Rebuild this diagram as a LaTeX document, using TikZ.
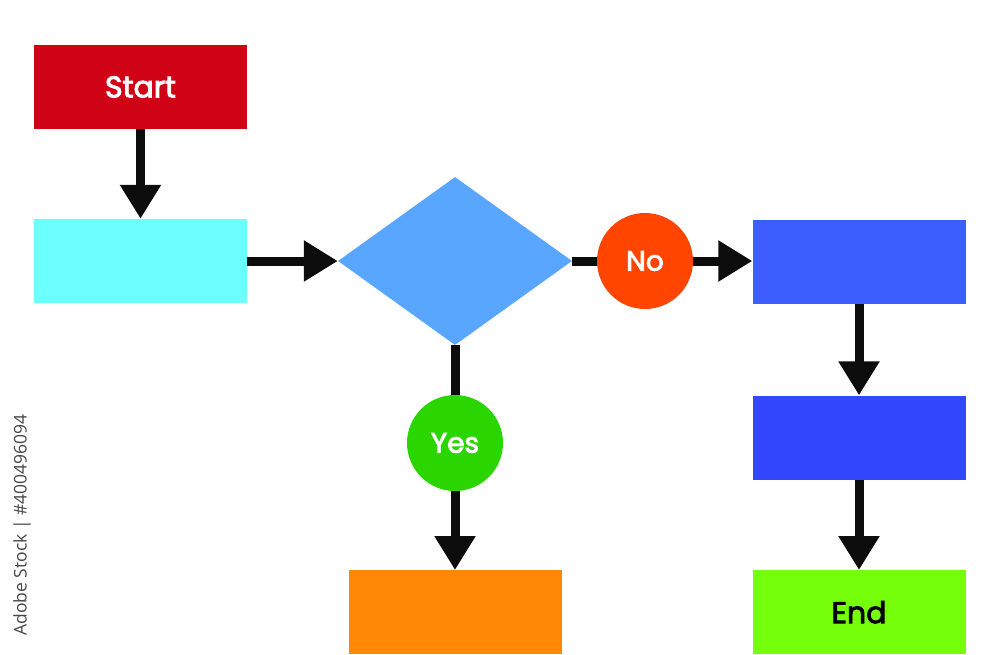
\documentclass[tikz,border=0pt]{standalone}
\usepackage{fontspec}
\setmainfont{Poppins}
\newfontfamily\lblfont{Poppins}[FakeBold=3]
\newfontfamily\wmfont{Open Sans}
\usetikzlibrary{shapes.geometric,arrows.meta}
\definecolor{cstart}{RGB}{208,2,22}
\definecolor{ccyan}{RGB}{108,255,255}
\definecolor{cdiam}{RGB}{88,166,255}
\definecolor{cno}{RGB}{255,69,0}
\definecolor{cyes}{RGB}{43,214,0}
\definecolor{cblueA}{RGB}{61,94,255}
\definecolor{cblueB}{RGB}{51,71,255}
\definecolor{corange}{RGB}{255,136,5}
\definecolor{cend}{RGB}{118,255,10}
\definecolor{carrow}{RGB}{12,12,12}
\tikzset{
  box/.style={rectangle, minimum width=213pt, minimum height=84pt, inner sep=0pt, font=\lblfont\fontsize{30}{32}\selectfont},
  badge/.style={circle, minimum size=96pt, inner sep=0pt, text=white, font=\lblfont\fontsize{28}{30}\selectfont},
  link/.style={draw=carrow, line width=9pt},
  flow/.style={link, -{Triangle[length=34pt,width=39pt]}},
}
\begin{document}
\begin{tikzpicture}[x=1pt,y=-1pt]
\useasboundingbox[fill=white] (0,0) rectangle (1000,655);
\node[box, fill=cstart, text=white] (start) at (140.5,87) {Start};
\node[box, fill=ccyan] (proc) at (140.5,261) {};
\node[diamond, fill=cdiam, minimum width=234pt, minimum height=168pt, aspect=1.39, inner sep=0pt] (dec) at (455,261) {};
\node[badge, fill=cno] (no) at (645,261) {No};
\node[badge, fill=cyes] (yes) at (455,443) {Yes};
\node[box, fill=cblueA] (b1) at (859,262) {};
\node[box, fill=cblueB] (b2) at (859,437.5) {};
\node[box, fill=corange, anchor=north] (out) at (455,570) {};
\node[box, fill=cend, anchor=north, text=black] (endb) at (859,570) {End};
\draw[flow] (start.south) -- (proc.north);
\draw[flow] (proc.east) -- (dec.west);
\draw[link] (dec.east) -- (no.west);
\draw[flow] (no.east) -- (no.east -| b1.west);
\draw[link] (dec.south) -- (yes.north);
\draw[flow] (yes.south) -- (out.north);
\draw[flow] (b1.south) -- (b2.north);
\draw[flow] (b2.south) -- (endb.north);
\node[rotate=90, text=black!72, font=\wmfont\fontsize{17.5}{19}\selectfont, anchor=center] (wm) at (22,525) {Adobe Stock | \#400496094};
\end{tikzpicture}
\end{document}
